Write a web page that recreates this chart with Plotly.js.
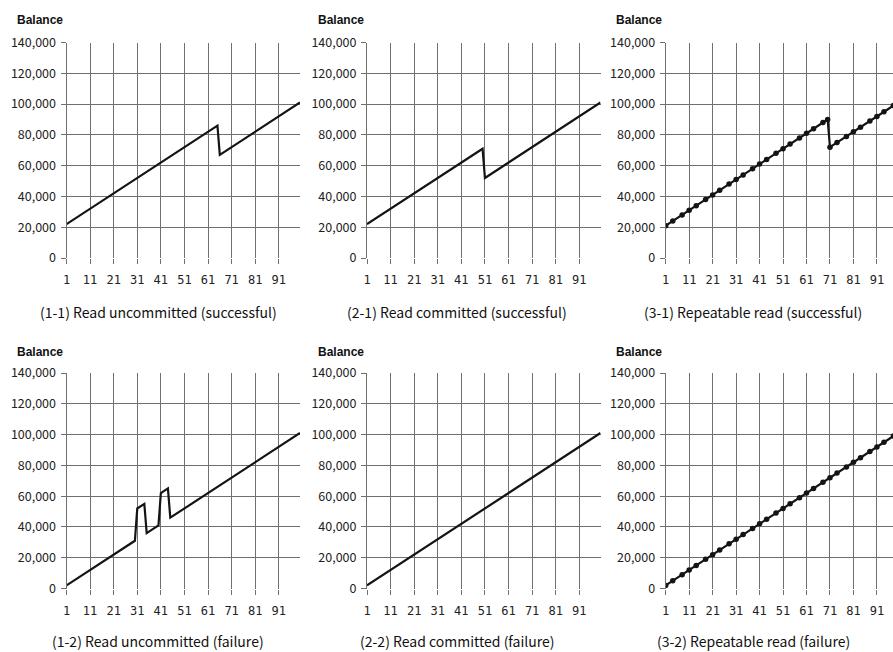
<!DOCTYPE html>
<html>
<head>
<meta charset="utf-8">
<script src="https://cdn.plot.ly/plotly-3.0.1.min.js"></script>
<style>html,body{margin:0;padding:0;background:#fff;}#chart{width:893px;height:652px;}</style>
</head>
<body>
<div id="chart"></div>
<script>
// ---- data ----
const steps = [1,2,3,4,5,6,7,8,9,10,11,12,13,14,15,16,17,18,19,20,21,22,23,24,25,26,27,28,29,30,31,32,33,34,35,36,37,38,39,40,41,42,43,44,45,46,47,48,49,50,51,52,53,54,55,56,57,58,59,60,61,62,63,64,65,66,67,68,69,70,71,72,73,74,75,76,77,78,79,80,81,82,83,84,85,86,87,88,89,90,91,92,93,94,95,96,97,98,99,100];

// (1-1) Read uncommitted (successful)
const balRU_ok = [22000,23000,24000,25000,26000,27000,28000,29000,30000,31000,
  32000,33000,34000,35000,36000,37000,38000,39000,40000,41000,
  42000,43000,44000,45000,46000,47000,48000,49000,50000,51000,
  52000,53000,54000,55000,56000,57000,58000,59000,60000,61000,
  62000,63000,64000,65000,66000,67000,68000,69000,70000,71000,
  72000,73000,74000,75000,76000,77000,78000,79000,80000,81000,
  82000,83000,84000,85000,86000,67000,68000,69000,70000,71000,
  72000,73000,74000,75000,76000,77000,78000,79000,80000,81000,
  82000,83000,84000,85000,86000,87000,88000,89000,90000,91000,
  92000,93000,94000,95000,96000,97000,98000,99000,100000,101000];

// (2-1) Read committed (successful)
const balRC_ok = [22000,23000,24000,25000,26000,27000,28000,29000,30000,31000,
  32000,33000,34000,35000,36000,37000,38000,39000,40000,41000,
  42000,43000,44000,45000,46000,47000,48000,49000,50000,51000,
  52000,53000,54000,55000,56000,57000,58000,59000,60000,61000,
  62000,63000,64000,65000,66000,67000,68000,69000,70000,71000,
  52000,53000,54000,55000,56000,57000,58000,59000,60000,61000,
  62000,63000,64000,65000,66000,67000,68000,69000,70000,71000,
  72000,73000,74000,75000,76000,77000,78000,79000,80000,81000,
  82000,83000,84000,85000,86000,87000,88000,89000,90000,91000,
  92000,93000,94000,95000,96000,97000,98000,99000,100000,101000];

// (1-2) Read uncommitted (failure)
const balRU_fail = [2000,3000,4000,5000,6000,7000,8000,9000,10000,11000,
  12000,13000,14000,15000,16000,17000,18000,19000,20000,21000,
  22000,23000,24000,25000,26000,27000,28000,29000,30000,31000,
  52000,53000,54000,55000,36000,37000,38000,39000,40000,41000,
  62000,63000,64000,65000,46000,47000,48000,49000,50000,51000,
  52000,53000,54000,55000,56000,57000,58000,59000,60000,61000,
  62000,63000,64000,65000,66000,67000,68000,69000,70000,71000,
  72000,73000,74000,75000,76000,77000,78000,79000,80000,81000,
  82000,83000,84000,85000,86000,87000,88000,89000,90000,91000,
  92000,93000,94000,95000,96000,97000,98000,99000,100000,101000];

// (2-2) Read committed (failure)
const balRC_fail = [2000,3000,4000,5000,6000,7000,8000,9000,10000,11000,
  12000,13000,14000,15000,16000,17000,18000,19000,20000,21000,
  22000,23000,24000,25000,26000,27000,28000,29000,30000,31000,
  32000,33000,34000,35000,36000,37000,38000,39000,40000,41000,
  42000,43000,44000,45000,46000,47000,48000,49000,50000,51000,
  52000,53000,54000,55000,56000,57000,58000,59000,60000,61000,
  62000,63000,64000,65000,66000,67000,68000,69000,70000,71000,
  72000,73000,74000,75000,76000,77000,78000,79000,80000,81000,
  82000,83000,84000,85000,86000,87000,88000,89000,90000,91000,
  92000,93000,94000,95000,96000,97000,98000,99000,100000,101000];

// (3-1) Repeatable read (successful) - sampled points with markers
const stepsRR_ok = [1,4,8,11,14,18,21,24,28,31,34,38,41,44,48,51,54,58,61,64,68,70,71,74,78,81,84,88,91,94,98,100];
const balRR_ok = [21000,24000,28000,31000,34000,38000,41000,44000,48000,51000,54000,58000,61000,64000,68000,71000,74000,78000,81000,84000,88000,90000,72000,75000,79000,82000,85000,89000,92000,95000,99000,101000];

// (3-2) Repeatable read (failure)
const stepsRR_fail = [1,4,8,11,14,18,21,24,28,31,34,38,41,44,48,51,54,58,61,64,68,71,74,78,81,84,88,91,94,98,100];
const balRR_fail = [2000,5000,9000,12000,15000,19000,22000,25000,29000,32000,35000,39000,42000,45000,49000,52000,55000,59000,62000,65000,69000,72000,75000,79000,82000,85000,89000,92000,95000,99000,101000];

const captions = ["(1-1) Read uncommitted (successful)","(2-1) Read committed (successful)","(3-1) Repeatable read (successful)",
                  "(1-2) Read uncommitted (failure)","(2-2) Read committed (failure)","(3-2) Repeatable read (failure)"];
const yTitle = "Balance";
const xTickVals = [1,11,21,31,41,51,61,71,81,91];

// ---- layout ----
const W = 893, H = 652;
const colDom = [[66.5/W, 300/W],[367/W, 600.5/W],[665.7/W, 1]];
const colRange = [[1,100],[1,100],[1,97.85]];
const rowDom = [[1-258/H, 1-42.5/H],[1-588.5/H, 1-373/H]];
const captionX = [158, 457, 753];
const captionY = [312, 641];
const balanceX = [15, 316, 614];
const balanceY = [20, 352];

const series = [
  {x: steps, y: balRU_ok, markers:false},
  {x: steps, y: balRC_ok, markers:false},
  {x: stepsRR_ok, y: balRR_ok, markers:true},
  {x: steps, y: balRU_fail, markers:false},
  {x: steps, y: balRC_fail, markers:false},
  {x: stepsRR_fail, y: balRR_fail, markers:true}
];

const gridColor = '#707070';
const tickFont = {family:'"Noto Sans CJK KR", "Noto Sans", sans-serif', size:12.5, color:'#222'};
const traces = [];
const layout = {
  width: W, height: H,
  margin: {l:0, r:0, t:0, b:0},
  paper_bgcolor:'#fff', plot_bgcolor:'#fff',
  showlegend:false,
  annotations: []
};

series.forEach((s, k) => {
  const n = k+1;
  const col = k % 3, row = Math.floor(k/3);
  traces.push({
    type:'scatter', mode: s.markers ? 'lines+markers' : 'lines',
    x: s.x, y: s.y,
    xaxis: 'x'+n, yaxis: 'y'+n,
    line: {color:'#141414', width:2.2},
    marker: {color:'#141414', size:5.5, symbol:'circle'},
    hoverinfo:'skip'
  });
  layout['xaxis'+n] = {
    domain: colDom[col], range: colRange[col], anchor: 'y'+n,
    tickmode:'array', tickvals: xTickVals,
    showgrid:true, gridcolor:gridColor, gridwidth:1,
    zeroline:false, showline:false,
    ticks:'outside', ticklen:5, tickcolor:gridColor,
    ticklabelstandoff: 6,
    tickfont: {family:'"DejaVu Sans Mono", "Liberation Mono", monospace', size:12, color:'#222'},
    fixedrange:true
  };
  layout['yaxis'+n] = {
    domain: rowDom[row], range:[0,140000], anchor:'x'+n,
    tickmode:'linear', tick0:0, dtick:20000, tickformat:',d',
    showgrid:true, gridcolor:gridColor, gridwidth:1,
    zeroline:false, showline:true, linecolor:gridColor, linewidth:1,
    ticks:'outside', ticklen:5, tickcolor:gridColor,
    ticklabelstandoff: 2,
    tickfont: tickFont,
    fixedrange:true
  };
  layout.annotations.push({
    xref:'paper', yref:'paper', x: captionX[col]/W, y: 1 - captionY[row]/H,
    xanchor:'center', yanchor:'middle', showarrow:false,
    text: captions[k],
    font: {family:'"Noto Sans CJK KR", "Noto Sans", sans-serif', size:14, color:'#111'}
  });
  layout.annotations.push({
    xref:'paper', yref:'paper', x: balanceX[col]/W, y: 1 - balanceY[row]/H,
    xanchor:'left', yanchor:'middle', showarrow:false,
    text: '<b>'+yTitle+'</b>',
    font: {family:'"Liberation Sans Narrow", "Liberation Sans", Arial, sans-serif', size:12, color:'#111'}
  });
});

Plotly.newPlot('chart', traces, layout, {displayModeBar:false, staticPlot:true});
</script>
</body>
</html>
